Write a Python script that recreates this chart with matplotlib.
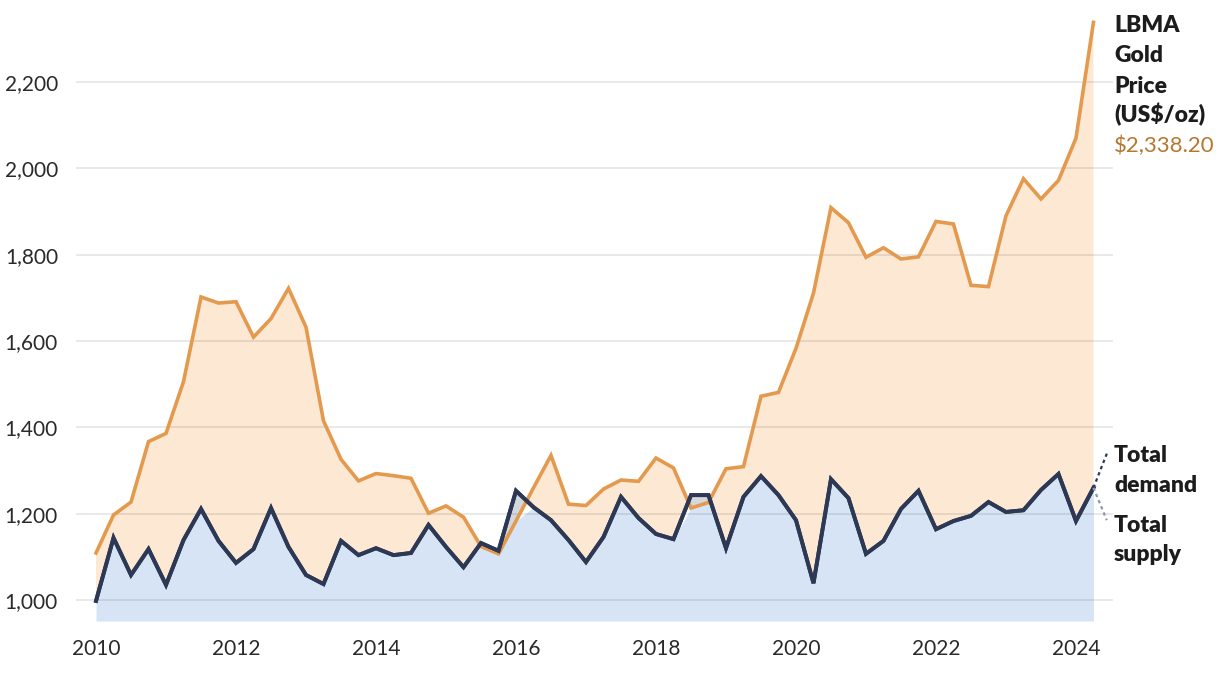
import matplotlib
matplotlib.use("Agg")
import matplotlib.pyplot as plt
import numpy as np

# ---- data (quarterly, 2010 Q1 .. 2024 Q2) ----
start_year = 2010
price = [1109, 1197, 1227, 1367, 1386, 1506, 1702, 1688, 1691, 1609, 1652, 1722,
         1632, 1415, 1326, 1276, 1293, 1288, 1282, 1201, 1218, 1192, 1124, 1107,
         1183, 1260, 1335, 1222, 1219, 1257, 1278, 1275, 1329, 1306, 1213, 1226,
         1304, 1309, 1472, 1481, 1583, 1711, 1909, 1874, 1794, 1816, 1790, 1795,
         1877, 1871, 1729, 1726, 1890, 1976, 1929, 1972, 2070, 2338.2]
demand = [998, 1144, 1058, 1118, 1035, 1139, 1211, 1137, 1086, 1118, 1213, 1123,
          1058, 1037, 1137, 1104, 1120, 1104, 1109, 1174, 1123, 1076, 1132, 1114,
          1253, 1215, 1185, 1139, 1088, 1146, 1239, 1190, 1153, 1141, 1243, 1243,
          1120, 1239, 1287, 1243, 1185, 1039, 1280, 1236, 1107, 1137, 1211, 1253,
          1164, 1183, 1195, 1227, 1204, 1208, 1255, 1292, 1183, 1260]
supply = list(demand)  # total supply equals total demand (balanced)
year_ticks = [2010, 2012, 2014, 2016, 2018, 2020, 2022, 2024]
value_ticks = [1000, 1200, 1400, 1600, 1800, 2000, 2200]
price_label = "$2,338.20"

# ---- style ----
ORANGE = "#E39A4F"
PEACH = "#FDE8D3"
BLUE_FILL = "#D6E4F5"
NAVY = "#2D3855"
GRAY_FILL = "#D4D7DC"
TXT = "#1c1c1c"

plt.rcParams['font.family'] = ['Lato', 'DejaVu Sans']

W, H = 1220, 674
fig = plt.figure(figsize=(W / 100, H / 100), dpi=100)
ax = fig.add_axes([76 / W, 1 - 621 / H, (1113 - 76) / W, 611 / H])

x = start_year + np.arange(len(price)) * 0.25
p = np.array(price, dtype=float)
d = np.array(demand, dtype=float)
s = np.array(supply, dtype=float)

ymin, ymax = 951.4, 2366.8
ax.set_ylim(ymin, ymax)
ax.set_xlim(2009.714, 2024.529)

ax.fill_between(x, ymin, np.minimum(p, d), color=BLUE_FILL, lw=0, zorder=1)
ax.fill_between(x, d, p, where=p >= d, interpolate=True, color=PEACH, lw=0, zorder=1)
ax.fill_between(x, p, d, where=d > p, interpolate=True, color=GRAY_FILL, lw=0, zorder=1)

ax.plot(x, p, color=ORANGE, lw=2.6, zorder=3, solid_joinstyle='miter')
ax.plot(x, s, color=NAVY, lw=2.8, zorder=3.1, solid_joinstyle='miter')
ax.plot(x, d, color=NAVY, lw=2.8, zorder=3.2, solid_joinstyle='miter')

# grid
ax.set_yticks(value_ticks)
ax.set_yticklabels([f"{v:,}" for v in value_ticks])
ax.set_xticks(year_ticks)
ax.set_xticklabels([str(v) for v in year_ticks])
ax.grid(axis='y', color='black', alpha=0.1, lw=1.2)
ax.grid(axis='x', visible=False)
ax.set_axisbelow(False)
for sp in ax.spines.values():
    sp.set_visible(False)
ax.tick_params(axis='y', length=0, pad=13, labelsize=15, labelcolor='#2a2a2a')
ax.tick_params(axis='x', length=0, pad=13, labelsize=15, labelcolor='#2a2a2a')

# leader lines
xl = x[-1]
ax.plot([xl, xl + 0.205], [d[-1], 1345], color=NAVY, lw=1.6, ls=(0, (1.5, 1.5)),
        clip_on=False, zorder=4)
ax.plot([xl, xl + 0.19], [s[-1], 1185], color="#8E97B3", lw=1.6, ls=(0, (1.5, 1.5)),
        clip_on=False, zorder=4)

# labels
def ftext(px, py, t, **kw):
    fig.text(px / W, 1 - py / H, t, ha='left', va='baseline', **kw)

tx = 1114
for yy, t in zip([32, 62, 93, 122], ["LBMA", "Gold", "Price", "(US$/oz)"]):
    ftext(tx, yy, t, fontsize=16.5, fontweight='heavy', color=TXT)
ftext(tx, 152, price_label, fontsize=16, color="#B5772F")
for yy, t in zip([462, 492, 532, 561], ["Total", "demand", "Total", "supply"]):
    ftext(tx, yy, t, fontsize=16.5, fontweight='heavy', color=TXT)

fig.savefig("out.png", dpi=100)
